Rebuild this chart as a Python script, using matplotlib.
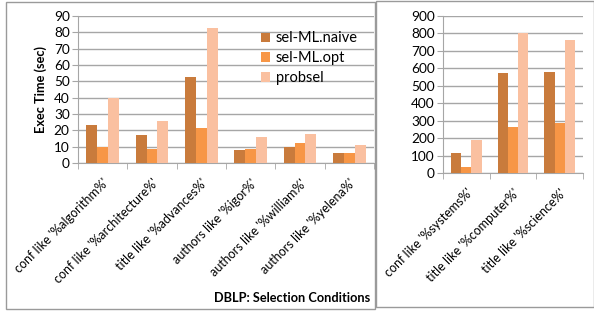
import numpy as np
import matplotlib
matplotlib.use("Agg")
import matplotlib.pyplot as plt
from matplotlib.patches import Rectangle

plt.rcParams['font.family'] = ['Lato', 'DejaVu Sans']

left_cats = ["conf like '%algorithm%'", "conf like '%architecture%'",
             "title like '%advances%'", "authors like '%igor%'",
             "authors like '%william%'", "authors like '%yelena%'"]
left_naive = [23.5, 17, 52.5, 8, 9.5, 6]
left_opt = [9.5, 8.5, 21.5, 8.5, 12.5, 6]
left_probsel = [40, 25.5, 82.5, 16, 17.5, 11]

right_cats = ["conf like '%systems%'", "title like '%computer%'",
              "title like '%science%'"]
right_naive = [115, 575, 578]
right_opt = [35, 265, 285]
right_probsel = [190, 805, 762]

series_names = ["sel-ML.naive", "sel-ML.opt", "probsel"]
colors = ["#C97B3C", "#F79646", "#FAC0A0"]
grid_c = "#A6A6A6"

W, H = 594, 315
fig = plt.figure(figsize=(W / 100, H / 100), dpi=100)


def box(x0, y0, x1, y1):
    return [x0 / W, 1 - y1 / H, (x1 - x0) / W, (y1 - y0) / H]


# panel borders
fig.patches.append(Rectangle((6 / W, 1 - 309 / H), (375 - 6) / W, (309 - 2) / H,
                             transform=fig.transFigure, fill=False,
                             edgecolor="#9A9A9A", lw=1))
fig.patches.append(Rectangle((376 / W, 1 - 307 / H), (594 - 376) / W, (307 - 1) / H,
                             transform=fig.transFigure, fill=False,
                             edgecolor="#9A9A9A", lw=1))


def draw(ax, cats, vals, ymax, ystep):
    x = np.arange(len(cats))
    w = 0.22
    bars = []
    for i, v in enumerate(vals):
        bars.append(ax.bar(x + (i - 1) * w, v, w, color=colors[i], zorder=3))
    ax.set_xlim(-0.5, len(cats) - 0.5)
    ax.set_ylim(0, ymax)
    ax.set_yticks(np.arange(0, ymax + 1, ystep))
    ax.yaxis.grid(True, color=grid_c, lw=1, zorder=0)
    ax.set_axisbelow(True)
    for s in ["top", "right"]:
        ax.spines[s].set_visible(False)
    for s in ["left", "bottom"]:
        ax.spines[s].set_color(grid_c)
    ax.set_xticks(x)
    ax.set_xticklabels(cats, rotation=45, ha="right", va="top",
                       rotation_mode="anchor", fontsize=9)
    ax.set_xticks(np.arange(len(cats) + 1) - 0.5, minor=True)
    ax.tick_params(axis="x", which="major", length=0, pad=10)
    ax.tick_params(axis="x", which="minor", length=4, color=grid_c)
    ax.tick_params(axis="y", length=4, color=grid_c, labelsize=9.8, pad=2)
    return bars


ax1 = fig.add_axes(box(78, 16, 374, 163))
bars = draw(ax1, left_cats, [left_naive, left_opt, left_probsel], 90, 10)
ax1.set_ylabel("Exec Time (sec)", fontweight="bold", fontsize=9.2, labelpad=5)
ax1.legend(bars, series_names, loc="upper left", bbox_to_anchor=(0.6, 0.935),
           frameon=False, fontsize=10.5, handlelength=0.6, handleheight=0.6,
           handletextpad=0.4, labelspacing=0.4, borderaxespad=0)
fig.text(370 / W, 1 - 298 / H, "DBLP: Selection Conditions", fontweight="bold",
         fontsize=9.2, ha="right", va="center")

ax2 = fig.add_axes(box(443, 16, 583, 173))
draw(ax2, right_cats, [right_naive, right_opt, right_probsel], 900, 100)

fig.savefig("out.png", dpi=100)
